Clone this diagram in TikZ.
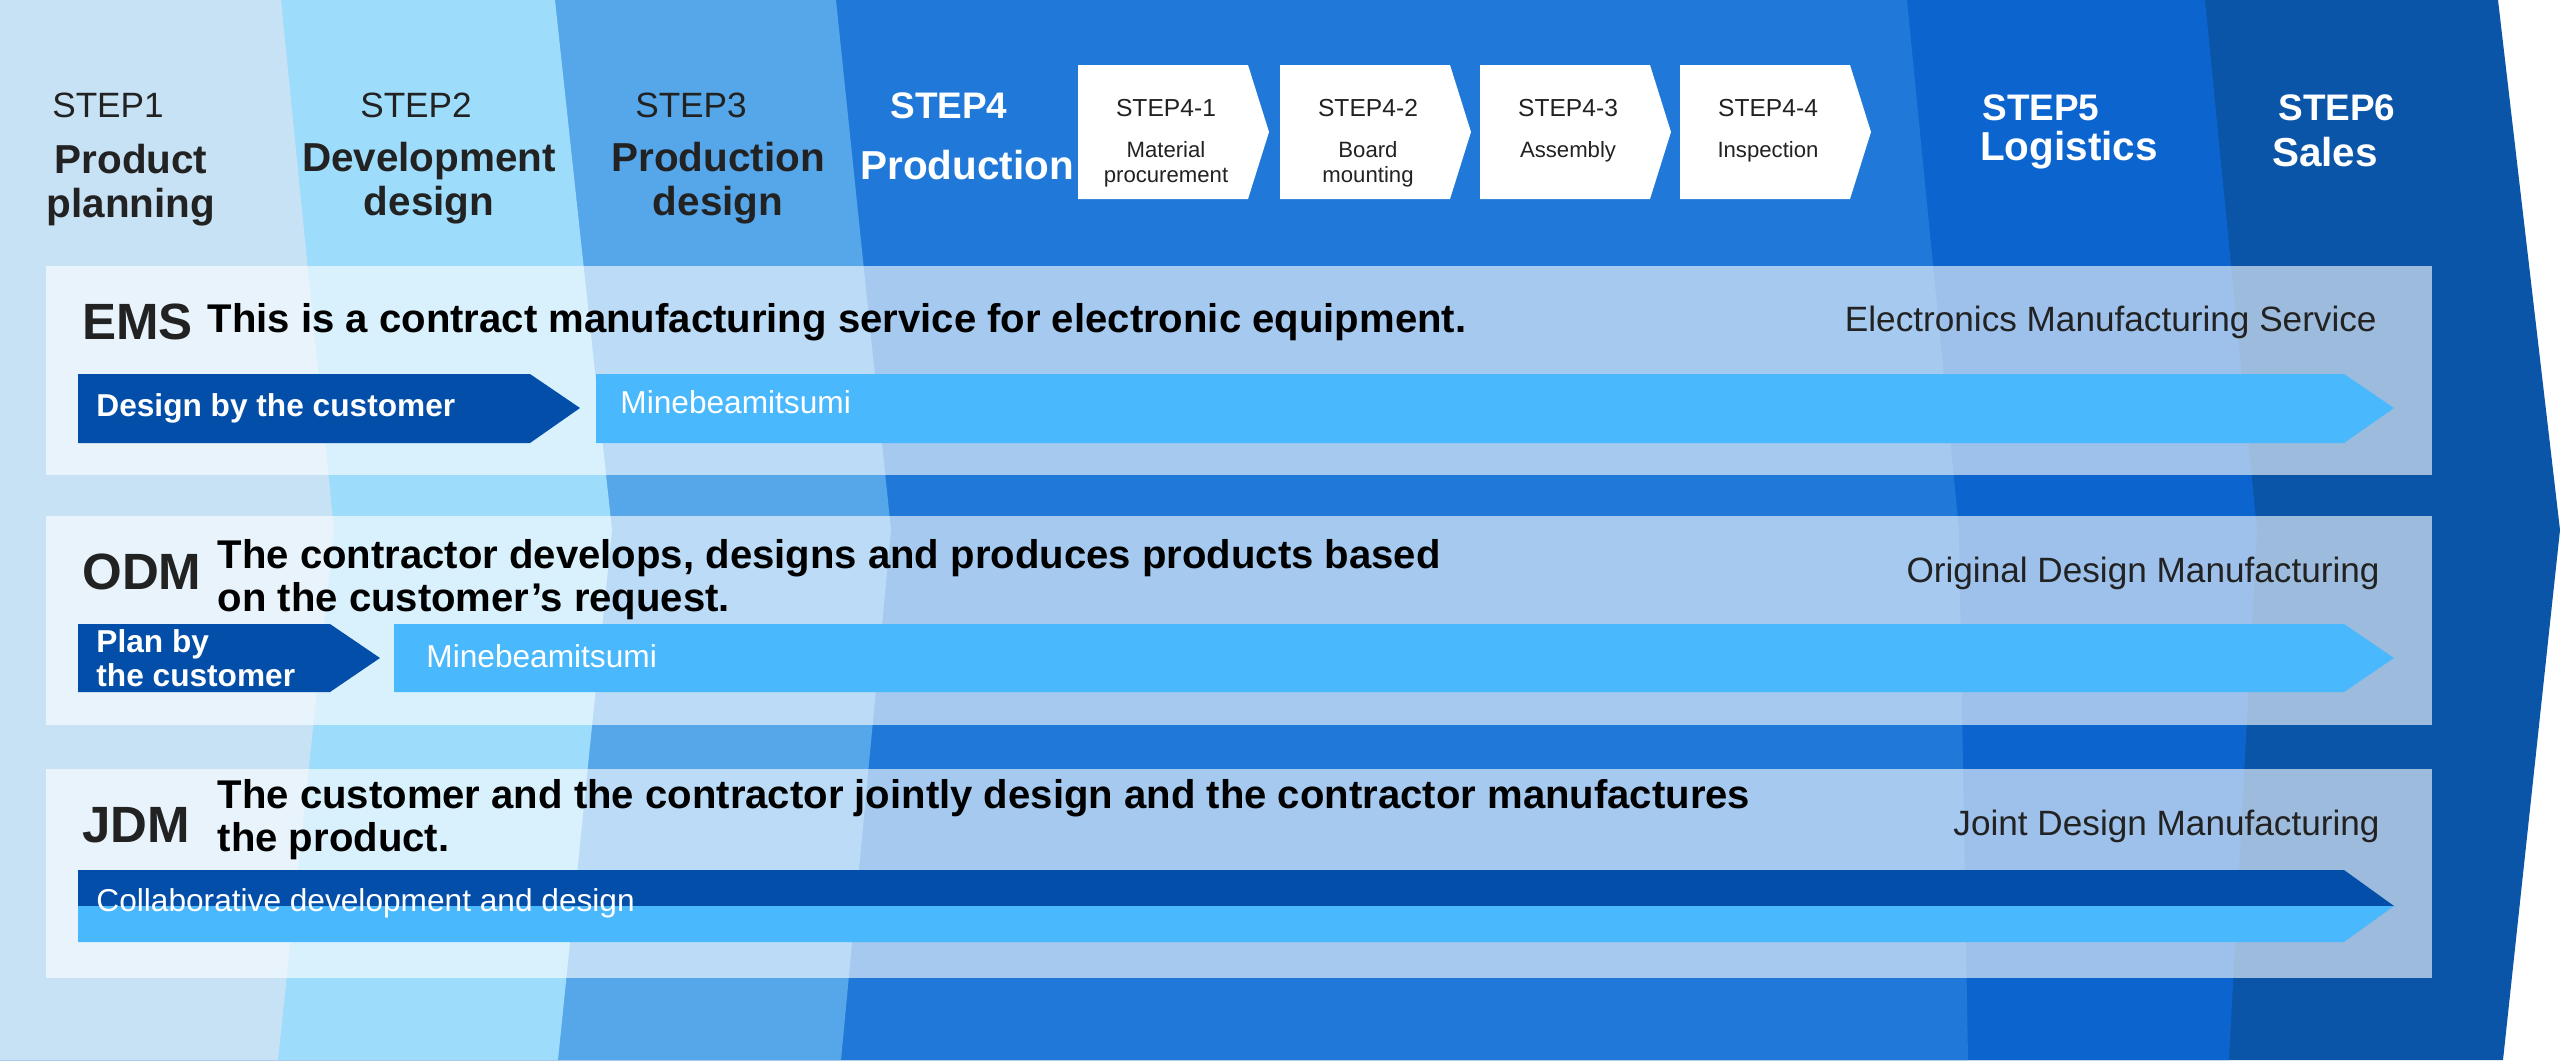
\documentclass[tikz,border=0pt]{standalone}
\usepackage{fontspec}
\setmainfont{Liberation Sans}
\usetikzlibrary{positioning}
\definecolor{bandA}{HTML}{C7E1F5}
\definecolor{bandB}{HTML}{9EDCFB}
\definecolor{bandC}{HTML}{56A6EA}
\definecolor{bandD}{HTML}{2079D9}
\definecolor{bandE}{HTML}{0C64CE}
\definecolor{bandF}{HTML}{0A55A8}
\definecolor{darkarr}{HTML}{034EA8}
\definecolor{lightarr}{HTML}{4AB8FD}
\definecolor{ink}{HTML}{222222}
\tikzset{
  steplbl/.style={font=\fontsize{10}{12}\selectfont, text=ink},
  phaselbl/.style={font=\fontsize{11.5}{12.5}\selectfont\bfseries, text=ink, align=center},
  subbox/.style={font=\fontsize{7}{8}\selectfont, text=ink, align=center},
  typelbl/.style={font=\fontsize{14.5}{16}\selectfont\bfseries, text=ink, anchor=west},
  desc/.style={font=\fontsize{11.4}{12.2}\selectfont\bfseries, text=black, anchor=west, align=left, inner sep=0pt},
  fullname/.style={font=\fontsize{10}{12}\selectfont, text=ink, anchor=east},
  arrtxt/.style={font=\fontsize{9}{10}\selectfont\bfseries, text=white, anchor=west, align=left},
}
\begin{document}
\begin{tikzpicture}[x=0.01cm,y=-0.01cm]
\useasboundingbox (0,0) rectangle (2560,1060);
% bands
\fill[white] (0,0) rectangle (2560,1060);
\fill[bandF] (0,0) -- (2498,0) -- (2560,530) -- (2503,1060) -- (0,1060) -- cycle;
\fill[bandE] (0,0) -- (2205,0) -- (2257,530) -- (2229,1060) -- (0,1060) -- cycle;
\fill[bandD] (0,0) -- (1907,0) -- (1959,530) -- (1968,1060) -- (0,1060) -- cycle;
\fill[bandC] (0,0) -- (836,0) -- (891,530) -- (841,1060) -- (0,1060) -- cycle;
\fill[bandB] (0,0) -- (555,0) -- (612,530) -- (558,1060) -- (0,1060) -- cycle;
\fill[bandA] (0,0) -- (281,0) -- (334,530) -- (278,1060) -- (0,1060) -- cycle;
% steps
\node[steplbl] (s1) at (108,105) {STEP1};
\node[phaselbl] (p1) at (131,185) {Product\\planning};
\node[steplbl] (s2) at (416,105) {STEP2};
\node[phaselbl] (p2) at (429,183) {Development\\design};
\node[steplbl] (s3) at (691,105) {STEP3};
\node[phaselbl] (p3) at (718,183) {Production\\design};
\node[steplbl, text=white, font=\fontsize{10.5}{12}\selectfont\bfseries] (s4) at (949,106) {STEP4};
\node[phaselbl, text=white] (p4) at (967,165) {Production};
\foreach \x/\n/\t [count=\i] in {1078/1/Material\\procurement, 1280/2/Board\\mounting, 1480/3/Assembly, 1680/4/Inspection}{
  \fill[white] (\x,65) -- (\x+170,65) -- (\x+191,132) -- (\x+170,199) -- (\x,199) -- cycle;
  \node[subbox] (sb\i) at (\x+88,108) {STEP4-\n};
  \node[subbox, font=\fontsize{6.3}{7}\selectfont, below=0pt of sb\i] (st\i) {\t};
}
\node[steplbl, text=white, font=\fontsize{10.5}{12}\selectfont\bfseries] (s5) at (2041,108) {STEP5};
\node[phaselbl, text=white] (p5) at (2069,150) {Logistics};
\node[steplbl, text=white, font=\fontsize{10.5}{12}\selectfont\bfseries] (s6) at (2337,108) {STEP6};
\node[phaselbl, text=white] (p6) at (2325,152) {Sales};
% model boxes
\foreach \y in {266,516,769}
  \fill[white, opacity=0.6] (46,\y) rectangle (2432,\y+209);
% EMS
\node[typelbl] (ems) at (70,322) {EMS};
\node[desc] (emsd) at (207,322) {This is a contract manufacturing service for electronic equipment.};
\node[fullname] (emsf) at (2389,322) {Electronics Manufacturing Service};
\fill[darkarr] (78,374) -- (530,374) -- (580,408) -- (530,443) -- (78,443) -- cycle;
\fill[lightarr] (596,374) -- (2344,374) -- (2394,408) -- (2344,443) -- (596,443) -- cycle;
\node[arrtxt] (emsa) at (84,408) {Design by the customer};
\node[arrtxt, font=\fontsize{9}{10}\selectfont] (emsb) at (608,402) {Minebeamitsumi};
% ODM
\node[typelbl] (odm) at (70,572) {ODM};
\node[desc] (odmd) at (217,580) {The contractor develops, designs and produces products based\\on the customer’s request.};
\node[fullname] (odmf) at (2392,573) {Original Design Manufacturing};
\fill[darkarr] (78,624) -- (330,624) -- (380,658) -- (330,692) -- (78,692) -- cycle;
\fill[lightarr] (394,624) -- (2344,624) -- (2394,658) -- (2344,692) -- (394,692) -- cycle;
\node[arrtxt, font=\fontsize{9}{9.5}\selectfont\bfseries] (odma) at (84,658) {Plan by\\the customer};
\node[arrtxt, font=\fontsize{9}{10}\selectfont] (odmb) at (414,656) {Minebeamitsumi};
% JDM
\node[typelbl] (jdm) at (70,825) {JDM};
\node[desc] (jdmd) at (217,820) {The customer and the contractor jointly design and the contractor manufactures\\the product.};
\node[fullname] (jdmf) at (2392,826) {Joint Design Manufacturing};
\fill[darkarr] (78,870) -- (2344,870) -- (2394,906) -- (78,906) -- cycle;
\fill[lightarr] (78,906) -- (2394,906) -- (2344,942) -- (78,942) -- cycle;
\node[arrtxt, font=\fontsize{9}{10}\selectfont] (jdma) at (84,903) {Collaborative development and design};
\end{tikzpicture}
\end{document}
